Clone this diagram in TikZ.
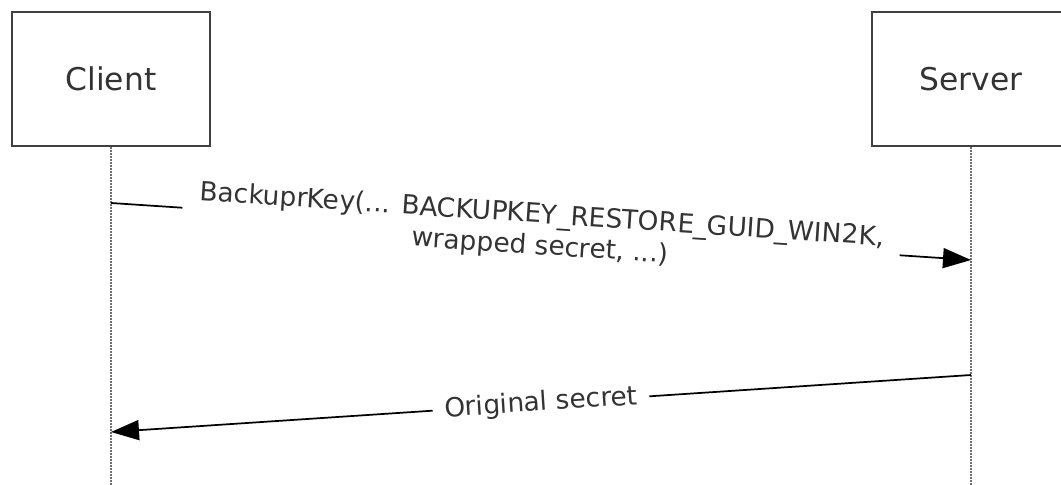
\documentclass[tikz,border=0pt]{standalone}
\usepackage{fontspec}
\setmainfont{DejaVu Sans}
\usetikzlibrary{arrows.meta}
\definecolor{boxline}{HTML}{404040}
\definecolor{txt}{HTML}{333333}
\definecolor{lifegray}{HTML}{707070}
\tikzset{
  actor/.style={draw=boxline, line width=2.2pt, fill=white, minimum width=148.5pt, minimum height=100.5pt,
    inner sep=0pt, text=txt, font=\fontsize{23.5pt}{28pt}\selectfont},
  lifeline/.style={draw=lifegray, line width=2.2pt, dash pattern=on 1.5pt off 0.75pt},
  msg/.style={draw=black, line width=1.3pt, -{Triangle[length=21pt, width=15pt]}},
  lbl/.style={fill=white, text=txt, inner ysep=2pt, align=center,
    font=\fontsize{19.8pt}{23.5pt}\selectfont}
}
\begin{document}
\begin{tikzpicture}[x=0.75pt, y=-0.75pt]
\useasboundingbox (0,0) rectangle (1061,485);
\fill[white] (0,0) rectangle (1061,485);
\node[actor] (client) at (111,79) {Client};
\node[actor] (server) at (971,79) {Server};
\coordinate (cend) at (111,485);
\coordinate (send) at (971,485);
\draw[lifeline] (client.south) -- (cend);
\draw[lifeline] (server.south) -- (send);
\coordinate (m1s) at (111,203);
\coordinate (m1e) at (971,260);
\coordinate (m2s) at (971,375);
\coordinate (m2e) at (111,432);
\draw[msg] (m1s) -- node[lbl, sloped, inner xsep=12.5pt] {BackuprKey(... BACKUPKEY\_RESTORE\_GUID\_WIN2K,\\wrapped secret, ...)} (m1e);
\draw[msg] (m2s) -- node[lbl, sloped, inner xsep=9pt] {Original secret} (m2e);
\end{tikzpicture}
\end{document}
